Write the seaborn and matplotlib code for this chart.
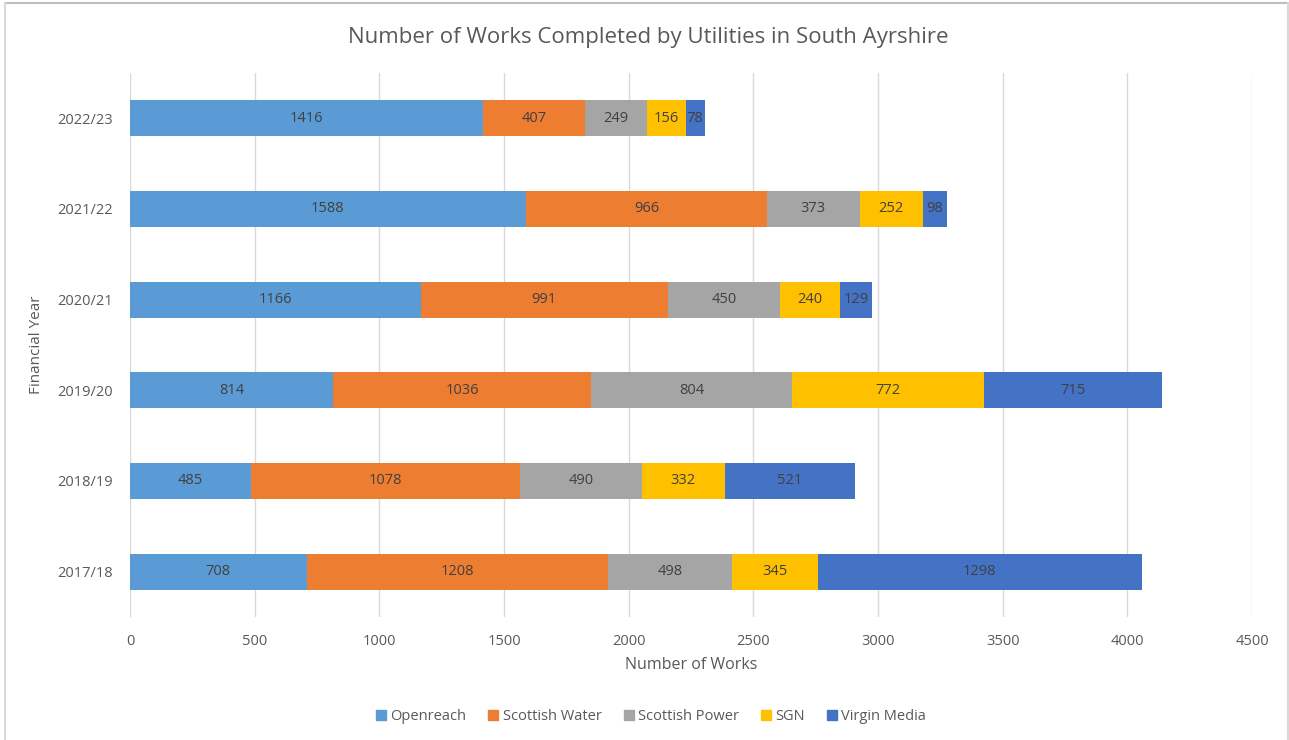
import matplotlib
matplotlib.use("Agg")
import matplotlib.pyplot as plt
from matplotlib.lines import Line2D
import seaborn as sns
import pandas as pd
import numpy as np

years = ["2022/23", "2021/22", "2020/21", "2019/20", "2018/19", "2017/18"]
series_names = ["Openreach", "Scottish Water", "Scottish Power", "SGN", "Virgin Media"]
openreach = [1416, 1588, 1166, 814, 485, 708]
scottish_water = [407, 966, 991, 1036, 1078, 1208]
scottish_power = [249, 373, 450, 804, 490, 498]
sgn = [156, 252, 240, 772, 332, 345]
virgin_media = [78, 98, 129, 715, 521, 1298]
colors = ["#5B9BD5", "#ED7D31", "#A5A5A5", "#FFC000", "#4472C4"]
x_ticks = [0, 500, 1000, 1500, 2000, 2500, 3000, 3500, 4000, 4500]

sns.set_theme(style="white")
plt.rcParams["font.family"] = ["Open Sans", "DejaVu Sans"]

values = [openreach, scottish_water, scottish_power, sgn, virgin_media]
df = pd.DataFrame({"year": years})
for name, v in zip(series_names, values):
    df[name] = v
cum = df[series_names].cumsum(axis=1)

fig = plt.figure(figsize=(12.89, 7.40), dpi=100)
ax = fig.add_axes([130 / 1289, 1 - 617 / 740, (1252 - 130) / 1289, (617 - 73) / 740])

# draw cumulative bars from last series to first so earlier ones overlap
for name, col in reversed(list(zip(series_names, colors))):
    sns.barplot(x=cum[name], y=df["year"], order=years, orient="h",
                color=col, width=0.4, ax=ax, saturation=1, linewidth=0, zorder=3)

# segment labels
for i in range(len(years)):
    left = 0
    for name in series_names:
        v = df[name].iloc[i]
        ax.text(left + v / 2, i, f"{v}", ha="center", va="center",
                fontsize=10.5, color="#404040", zorder=5)
        left += v

ax.set_xlim(0, 4500)
ax.set_ylim(5.5, -0.5)
ax.set_xticks(x_ticks)
ax.set_xticklabels([str(t) for t in x_ticks])
ax.grid(axis="x", color="#D9D9D9", linewidth=1, zorder=0)
ax.grid(axis="y", visible=False)
for s in ax.spines.values():
    s.set_visible(False)
ax.tick_params(axis="both", length=0, labelsize=10.5, colors="#595959")
ax.tick_params(axis="x", pad=12)
ax.tick_params(axis="y", pad=12)
ax.set_xlabel("Number of Works", fontsize=11.5, color="#595959", labelpad=6)
ax.set_ylabel("Financial Year", fontsize=11, color="#595959", labelpad=10)

fig.text(0.503, 1 - 38 / 740, "Number of Works Completed by Utilities in South Ayrshire",
         ha="center", va="center", fontsize=16, color="#595959")

handles = [Line2D([0], [0], marker="s", linestyle="none", markersize=7,
                  markerfacecolor=c, markeredgecolor=c) for c in colors]
fig.legend(handles, series_names, loc="center", bbox_to_anchor=(0.505, 1 - 717 / 740),
           ncol=5, frameon=False, fontsize=10.5, handlelength=0.7, handletextpad=0.3,
           columnspacing=1.5, labelcolor="#595959")

# outer chart frame
fig.add_artist(Line2D([5 / 1289, 1288 / 1289], [1 - 3 / 740, 1 - 3 / 740],
                      transform=fig.transFigure, color="#BFBFBF", linewidth=1.5))
fig.add_artist(Line2D([5 / 1289, 5 / 1289], [0, 1 - 3 / 740],
                      transform=fig.transFigure, color="#D9D9D9", linewidth=1.5))
fig.add_artist(Line2D([1288 / 1289, 1288 / 1289], [0, 1 - 3 / 740],
                      transform=fig.transFigure, color="#D9D9D9", linewidth=1.5))

fig.savefig("out.png", dpi=100, facecolor="white")
